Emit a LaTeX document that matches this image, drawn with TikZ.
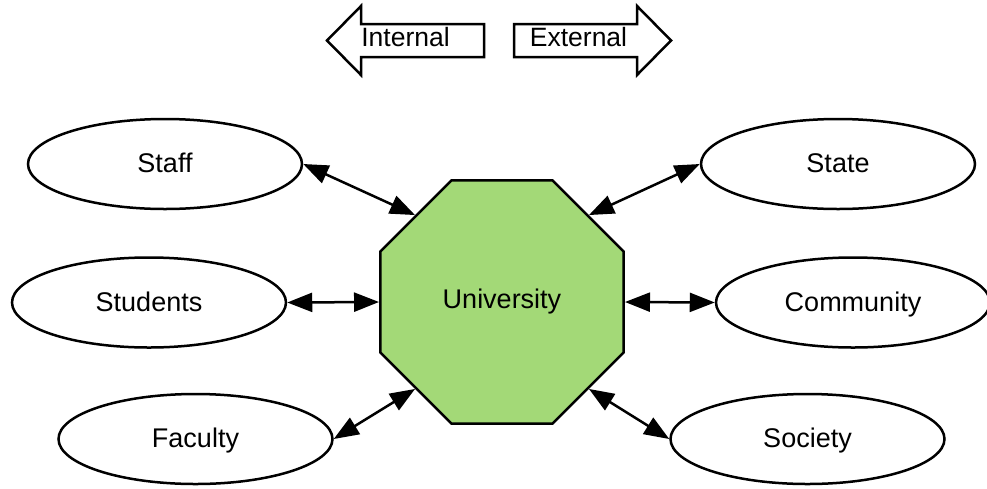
\documentclass[tikz,border=0pt]{standalone}
\usepackage{fontspec}
\setmainfont{Liberation Sans}
\usetikzlibrary{shapes.geometric,arrows.meta}
\definecolor{unigreen}{RGB}{163,217,119}
\tikzset{
  ell/.style={draw=black, line width=2.5pt, ellipse, fill=white, minimum width=274pt, minimum height=90pt, inner sep=0pt, text height=19pt, text depth=2pt, font=\fontsize{27}{30}\selectfont},
  conn/.style={line width=2.5pt, {Triangle[length=25pt,width=19pt]}-{Triangle[length=25pt,width=19pt]}},
  blockarrow/.style={draw=black, line width=2.5pt, fill=white, line join=miter},
  lbl/.style={font=\fontsize{26.5}{30}\selectfont, inner sep=0pt, anchor=base}
}
\begin{document}
\begin{tikzpicture}[x=1pt,y=-1pt]
\useasboundingbox (0,0) rectangle (987,488);
% top block arrows
\draw[blockarrow] (327,40.5) -- (361,6) -- (361,24) -- (484,24) -- (484,57) -- (361,57) -- (361,75) -- cycle;
\draw[blockarrow] (671,40.5) -- (637,6) -- (637,24) -- (514,24) -- (514,57) -- (637,57) -- (637,75) -- cycle;
\node[lbl] (internal) at (405.5,46) {Internal};
\node[lbl] (external) at (578.5,46) {External};
% centre
\node[draw=black, line width=2.5pt, fill=unigreen, regular polygon, regular polygon sides=8, minimum size=263.5pt, inner sep=0pt, font=\fontsize{27}{30}\selectfont] (univ) at (502,302) {University};
% ellipses
\node[ell] (staff) at (165,164) {Staff};
\node[ell] (students) at (149,302.5) {Students};
\node[ell] (faculty) at (195.5,439) {Faculty};
\node[ell] (state) at (838,164) {State};
\node[ell] (community) at (853,302.5) {Community};
\node[ell] (society) at (807.5,439) {Society};
% connectors
\draw[conn] (staff.east) -- (univ.135);
\draw[conn] (students.east) -- (univ.180);
\draw[conn] (faculty.east) -- (univ.225);
\draw[conn] (state.west) -- (univ.45);
\draw[conn] (community.west) -- (univ.0);
\draw[conn] (society.west) -- (univ.315);
\end{tikzpicture}
\end{document}
